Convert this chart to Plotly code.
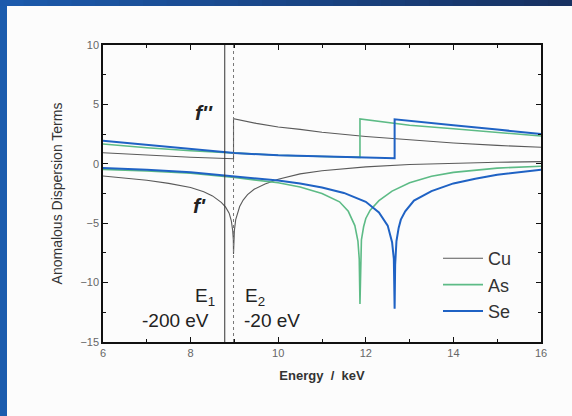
import plotly.graph_objects as go

# Anomalous scattering factors f'' and f' for Cu, As and Se (6-16 keV)
cu_fpp_e = [6, 7, 8, 8.98, 8.98, 9.5, 10, 10.5, 11, 12, 13, 14, 15, 16]
cu_fpp = [0.93, 0.72, 0.55, 0.43, 3.8, 3.4, 3.1, 2.9, 2.65, 2.3, 2.0, 1.75, 1.55, 1.39]

as_fpp_e = [6, 7, 8, 9, 10, 11, 11.867, 11.867, 12.67, 13, 14, 15, 16]
as_fpp = [1.67, 1.35, 1.1, 0.88, 0.72, 0.62, 0.54, 3.77, 3.4, 3.25, 2.95, 2.62, 2.34]

se_fpp_e = [6, 7, 8, 9, 10, 11, 12, 12.658, 12.658, 13, 14, 15, 16]
se_fpp = [1.94, 1.6, 1.25, 0.9, 0.72, 0.6, 0.5, 0.46, 3.74, 3.6, 3.25, 2.88, 2.51]

cu_fp_e = [6, 6.5, 7, 7.5, 8, 8.3, 8.5, 8.7, 8.8, 8.88, 8.93, 8.96, 8.975, 8.98,
           8.985, 9.0, 9.03, 9.07, 9.12, 9.2, 9.3, 9.45, 9.7, 10, 10.5, 11, 11.5,
           12, 13, 14, 15, 16]
cu_fp = [-1.03, -1.2, -1.38, -1.65, -2.0, -2.35, -2.7, -3.25, -3.65, -4.15, -4.8,
         -5.6, -6.4, -7.6, -6.6, -5.6, -4.7, -4.1, -3.6, -3.05, -2.6, -2.15, -1.7,
         -1.3, -0.85, -0.58, -0.4, -0.26, -0.06, 0.06, 0.13, 0.18]

as_fp_e = [6, 7, 8, 9, 10, 10.5, 11, 11.4, 11.6, 11.75, 11.82, 11.85, 11.867,
           11.88, 11.9, 11.95, 12.0, 12.1, 12.3, 12.6, 13, 13.5, 14, 15, 16]
as_fp = [-0.47, -0.6, -0.8, -1.15, -1.6, -1.95, -2.5, -3.2, -4.0, -5.2, -6.5, -8.0,
         -11.8, -8.0, -6.4, -5.3, -4.6, -3.9, -3.1, -2.3, -1.6, -1.05, -0.72, -0.36,
         -0.2]

se_fp_e = [6, 7, 8, 9, 10, 10.5, 11, 11.5, 12, 12.3, 12.5, 12.6, 12.64, 12.658,
           12.67, 12.7, 12.75, 12.8, 12.9, 13.1, 13.5, 14, 14.5, 15, 16]
se_fp = [-0.35, -0.5, -0.72, -1.05, -1.4, -1.65, -2.0, -2.45, -3.2, -4.1, -5.2,
         -6.6, -8.0, -12.2, -8.5, -6.5, -5.4, -4.7, -4.0, -3.1, -2.3, -1.65, -1.25,
         -0.92, -0.5]

elements = ["Cu", "As", "Se"]
colors = {"Cu": "#5a5a5a", "As": "#5dbb86", "Se": "#1f62c4"}
widths = {"Cu": 1.1, "As": 1.6, "Se": 2.0}
series = {
    "Cu": (cu_fpp_e, cu_fpp, cu_fp_e, cu_fp),
    "As": (as_fpp_e, as_fpp, as_fp_e, as_fp),
    "Se": (se_fpp_e, se_fpp, se_fp_e, se_fp),
}

# Wavelengths used: 200 eV and 20 eV below the Cu K edge
edge_energies = [8.78, 8.98]
edge_labels = ["E<sub>1</sub>", "E<sub>2</sub>"]
edge_offsets = ["-200 eV", "-20 eV"]

FONT = "Liberation Sans, Arial, sans-serif"

fig = go.Figure()
for el in elements:
    e2, f2, e1, f1 = series[el]
    line = dict(color=colors[el], width=widths[el])
    fig.add_trace(go.Scatter(x=e2, y=f2, mode="lines", name=el, legendgroup=el,
                             line=line, showlegend=True))
    fig.add_trace(go.Scatter(x=e1, y=f1, mode="lines", name=el, legendgroup=el,
                             line=line, showlegend=False))

# Vertical markers for the two energies
fig.add_shape(type="line", xref="x", yref="y", x0=edge_energies[0], x1=edge_energies[0],
              y0=-15, y1=10, line=dict(color="#333333", width=1))
fig.add_shape(type="line", xref="x", yref="y", x0=edge_energies[1], x1=edge_energies[1],
              y0=-15, y1=10, line=dict(color="#777777", width=1, dash="dot"))

# Labels for the edge energies
fig.add_annotation(x=edge_energies[0], y=-11.2, xref="x", yref="y", text=edge_labels[0],
                   showarrow=False, xanchor="right", xshift=-8,
                   font=dict(size=19, color="#222222", family=FONT))
fig.add_annotation(x=edge_energies[0], y=-13.15, xref="x", yref="y", text=edge_offsets[0],
                   showarrow=False, xanchor="right", xshift=-14,
                   font=dict(size=19, color="#222222", family=FONT))
fig.add_annotation(x=edge_energies[1], y=-11.2, xref="x", yref="y", text=edge_labels[1],
                   showarrow=False, xanchor="left", xshift=9,
                   font=dict(size=19, color="#222222", family=FONT))
fig.add_annotation(x=edge_energies[1], y=-13.15, xref="x", yref="y", text=edge_offsets[1],
                   showarrow=False, xanchor="left", xshift=8,
                   font=dict(size=19, color="#222222", family=FONT))

# f'' and f' term labels
fig.add_annotation(x=8.3, y=4.3, xref="x", yref="y", text="<b><i>f''</i></b>",
                   showarrow=False, font=dict(size=21, color="#222222", family=FONT))
fig.add_annotation(x=8.2, y=-3.5, xref="x", yref="y", text="<b><i>f'</i></b>",
                   showarrow=False, font=dict(size=21, color="#222222", family=FONT))

# Frame stripes along the left and top edges of the page
W, H = 572, 416
ML, MR, MT, MB = 103, 31, 45, 74
pw, ph = W - ML - MR, H - MT - MB


def px(xp):
    return (xp - ML) / pw


def py(yp):
    return (H - MB - yp) / ph


fig.add_shape(type="rect", xref="paper", yref="paper", x0=px(0), x1=px(7),
              y0=py(H + 2), y1=py(0), fillcolor="#1b5cae", line=dict(width=0), layer="below")
n = 24
for i in range(n):
    t = i / (n - 1)
    r = int(0x1c + (0x18 - 0x1c) * t)
    g = int(0x5a + (0x32 - 0x5a) * t)
    b = int(0xac + (0x62 - 0xac) * t)
    fig.add_shape(type="rect", xref="paper", yref="paper",
                  x0=px(W * i / n), x1=px(W * (i + 1) / n + 1),
                  y0=py(6), y1=py(0), fillcolor=f"rgb({r},{g},{b})",
                  line=dict(width=0), layer="below")

axis_common = dict(
    showline=True, linecolor="#111111", linewidth=1.5, mirror="ticks",
    ticks="inside", ticklen=5, tickwidth=1.3, tickcolor="#111111",
    showgrid=False, zeroline=False,
    tickfont=dict(size=11, color="#666666", family=FONT),
)

fig.update_layout(
    width=W, height=H,
    margin=dict(l=ML, r=MR, t=MT, b=MB),
    paper_bgcolor="#fcfcfc", plot_bgcolor="#fcfcfc",
    font=dict(family=FONT),
    xaxis=dict(range=[6, 16], dtick=2, tick0=6,
               minor=dict(dtick=1, ticks="inside", ticklen=3, tickcolor="#111111"),
               title=dict(text="<b>Energy  /  keV</b>", standoff=13,
                          font=dict(size=13, color="#333333", family=FONT)),
               **axis_common),
    yaxis=dict(range=[-15, 10], dtick=5, tick0=-15,
               minor=dict(dtick=2.5, ticks="inside", ticklen=3, tickcolor="#111111"),
               title=dict(text="Anomalous Dispersion Terms", standoff=14,
                          font=dict(size=14, color="#333333", family=FONT)),
               **axis_common),
    legend=dict(x=px(438), y=py(240), xanchor="left", yanchor="top",
                bgcolor="rgba(0,0,0,0)", font=dict(size=18, color="#333333", family=FONT),
                tracegroupgap=0, itemwidth=40),
    showlegend=True,
)

fig.write_html("out.html")
